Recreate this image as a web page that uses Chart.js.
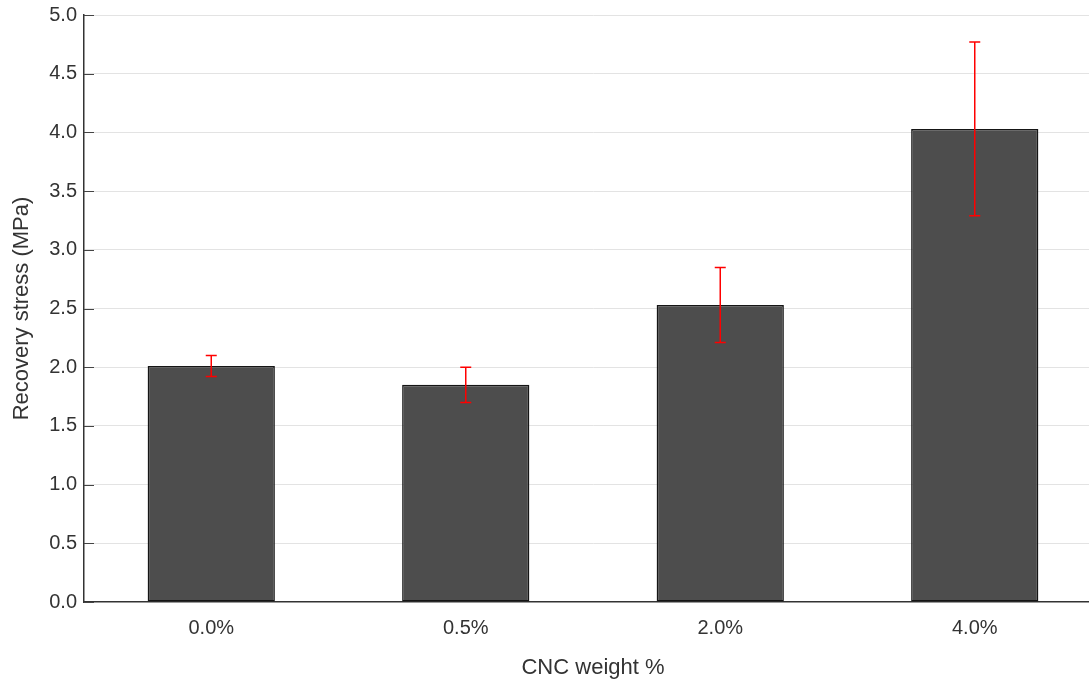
<!DOCTYPE html>
<html>
<head>
<meta charset="utf-8">
<script src="https://cdn.jsdelivr.net/npm/chart.js@4/dist/chart.umd.min.js"></script>
<style>
  html, body { margin: 0; padding: 0; background: #fff; overflow: hidden; }
  #wrap { width: 1089px; height: 684px; overflow: hidden; position: relative; }
  #box { position: absolute; left: 0; top: 0; width: 1102px; height: 684px; }
</style>
</head>
<body>
<div id="wrap"><div id="box"><canvas id="c"></canvas></div></div>
<script>
// CNC loading levels and measured recovery stress (MPa)
const categories = ['0.0%', '0.5%', '2.0%', '4.0%'];
const stressMean = [2.01, 1.85, 2.53, 4.03];
const stressErr  = [0.09, 0.15, 0.32, 0.74];
const yTicks     = [0, 0.5, 1.0, 1.5, 2.0, 2.5, 3.0, 3.5, 4.0, 4.5, 5.0];

const FONT = 'Liberation Sans, Arial, Helvetica, sans-serif';
const TEXT = '#333333';

// Red error bars with caps, positioned through the chart scales
const errorBars = {
  id: 'errorBars',
  afterDatasetsDraw(chart) {
    const { ctx, scales: { x, y } } = chart;
    ctx.save();
    ctx.strokeStyle = '#ff0000';
    ctx.lineWidth = 1.5;
    stressMean.forEach((m, i) => {
      const px = x.getPixelForValue(i);
      const yHi = y.getPixelForValue(m + stressErr[i]);
      const yLo = y.getPixelForValue(m - stressErr[i]);
      ctx.beginPath();
      ctx.moveTo(px, yHi); ctx.lineTo(px, yLo);
      ctx.moveTo(px - 5.5, yHi); ctx.lineTo(px + 5.5, yHi);
      ctx.moveTo(px - 5.5, yLo); ctx.lineTo(px + 5.5, yLo);
      ctx.stroke();
    });
    ctx.restore();
  }
};

// Short inward tick marks on the value axis
const innerTicks = {
  id: 'innerTicks',
  beforeDatasetsDraw(chart) {
    const { ctx, scales: { y } } = chart;
    ctx.save();
    ctx.strokeStyle = '#444444';
    ctx.lineWidth = 1;
    y.ticks.forEach(t => {
      const py = Math.round(y.getPixelForValue(t.value)) + 0.5;
      ctx.beginPath();
      ctx.moveTo(y.right, py);
      ctx.lineTo(y.right + 10, py);
      ctx.stroke();
    });
    ctx.restore();
  }
};

new Chart(document.getElementById('c'), {
  type: 'bar',
  data: {
    labels: categories,
    datasets: [{
      data: stressMean,
      backgroundColor: '#4d4d4d',
      borderColor: '#151515',
      borderWidth: 1.5,
      borderSkipped: false,
      barPercentage: 0.5,
      categoryPercentage: 1.0
    }]
  },
  options: {
    responsive: true,
    maintainAspectRatio: false,
    animation: false,
    layout: { padding: { top: 15, left: 0, right: 0, bottom: 0 } },
    plugins: {
      legend: { display: false },
      tooltip: { enabled: false }
    },
    scales: {
      x: {
        grid: { display: false, drawTicks: false },
        border: { display: true, color: '#333333', width: 1.5 },
        ticks: { color: TEXT, font: { family: FONT, size: 20 }, padding: 14 },
        title: {
          display: true, text: 'CNC weight %', color: TEXT,
          font: { family: FONT, size: 22 }, padding: { top: 0, bottom: 3 }
        },
        afterFit(scale) { scale.height = 82; }
      },
      y: {
        min: 0, max: 5,
        afterBuildTicks(scale) { scale.ticks = yTicks.map(v => ({ value: v })); },
        grid: {
          drawTicks: false,
          color: ctx => (ctx.tick && ctx.tick.value === 0) ? 'rgba(0,0,0,0)' : '#e3e3e3',
          lineWidth: 1
        },
        border: { display: true, color: '#333333', width: 1.5 },
        ticks: {
          color: TEXT, font: { family: FONT, size: 20 }, padding: 7,
          callback: v => Number(v).toFixed(1)
        },
        title: {
          display: true, text: 'Recovery stress (MPa)', color: TEXT,
          font: { family: FONT, size: 22 }, padding: { top: 9, bottom: 0 }
        },
        afterFit(scale) {
          scale.width = 84;
          scale.paddingTop = 0;
          scale.paddingBottom = 0;
        }
      }
    }
  },
  plugins: [innerTicks, errorBars]
});
</script>
</body>
</html>
